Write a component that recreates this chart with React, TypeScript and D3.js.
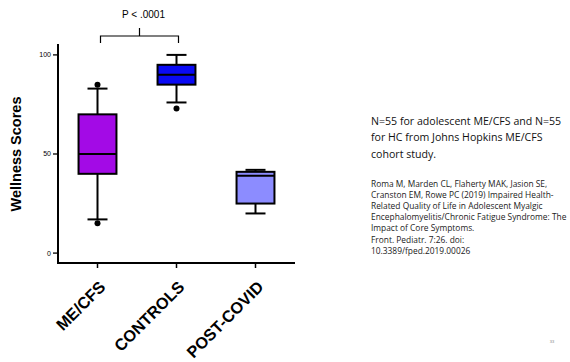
import React from 'react';
import * as d3 from 'd3';

// box plot summary values
const categories = ["ME/CFS", "CONTROLS", "POST-COVID"];
const whiskerLow = [17, 76, 20];
const q1 = [40, 85, 25];
const median = [50, 90, 39];
const q3 = [70, 95, 41];
const whiskerHigh = [83, 100, 42];
const outliers = [[85, 15], [73], []];
const fills = ["#a30ae6", "#0a0af5", "#8c8cff"];
const yTicks = [0, 50, 100];

const noteLines = [
  "N=55 for adolescent ME/CFS and N=55",
  "for HC from Johns Hopkins ME/CFS",
  "cohort study.",
];
const refLines = [
  "Roma M, Marden CL, Flaherty MAK, Jasion SE,",
  "Cranston EM, Rowe PC (2019) Impaired Health-",
  "Related Quality of Life in Adolescent Myalgic",
  "Encephalomyelitis/Chronic Fatigue Syndrome: The",
  "Impact of Core Symptoms.",
  "Front. Pediatr. 7:26. doi:",
  "10.3389/fped.2019.00026",
];

export default function App() {
  const width = 570;
  const height = 362;

  // plot area
  const left = 58, right = 295, top = 44, bottom = 263;

  const x = d3.scaleBand<string>()
    .domain(categories)
    .range([left, right])
    .padding(0);

  const y = d3.scaleLinear()
    .domain([-5, 105.5])
    .range([bottom, top]);

  const boxW = x.bandwidth() * 0.48;
  const capW = 20;
  const cx = (c: string) => (x(c) as number) + x.bandwidth() / 2;

  const sans = "Liberation Sans, Arial, sans-serif";

  // significance bracket between first two groups
  const bx1 = cx(categories[0]) + 3;
  const bx2 = cx(categories[1]) + 2;
  const bracketY = 36;

  return (
    <svg width={width} height={height} style={{ position: "absolute", left: 0, top: 0, background: "#fff" }}>
      {/* y axis */}
      <line x1={left} x2={left} y1={top} y2={bottom} stroke="#000" strokeWidth={2} />
      {yTicks.map(t => (
        <g key={t}>
          <line x1={left - 5} x2={left} y1={y(t)} y2={y(t)} stroke="#000" strokeWidth={1.3} />
          <text x={left - 7} y={y(t)} dy="0.35em" textAnchor="end" fontFamily={sans} fontSize={7}>{t}</text>
        </g>
      ))}
      <text
        transform={`translate(21,154) rotate(-90)`}
        textAnchor="middle"
        fontFamily={sans}
        fontWeight="bold"
        fontSize={14.5}
      >Wellness Scores</text>

      {/* x axis */}
      <line x1={left - 1} x2={right} y1={bottom} y2={bottom} stroke="#000" strokeWidth={2} />
      {categories.map(c => (
        <g key={c}>
          <line x1={cx(c)} x2={cx(c)} y1={bottom} y2={bottom + 5} stroke="#000" strokeWidth={1.5} />
          <text
            transform={`translate(${cx(c) + 9},${bottom + 25}) rotate(-45)`}
            textAnchor="end"
            fontFamily={sans}
            fontWeight="bold"
            fontSize={16.3}
          >{c}</text>
        </g>
      ))}

      {/* boxes */}
      {categories.map((c, i) => {
        const m = cx(c);
        return (
          <g key={c}>
            <line x1={m} x2={m} y1={y(whiskerHigh[i])} y2={y(q3[i])} stroke="#000" strokeWidth={2} />
            <line x1={m} x2={m} y1={y(q1[i])} y2={y(whiskerLow[i])} stroke="#000" strokeWidth={2} />
            <line x1={m - capW / 2} x2={m + capW / 2} y1={y(whiskerHigh[i])} y2={y(whiskerHigh[i])} stroke="#000" strokeWidth={2} />
            <line x1={m - capW / 2} x2={m + capW / 2} y1={y(whiskerLow[i])} y2={y(whiskerLow[i])} stroke="#000" strokeWidth={2} />
            <rect
              x={m - boxW / 2}
              y={y(q3[i])}
              width={boxW}
              height={y(q1[i]) - y(q3[i])}
              fill={fills[i]}
              stroke="#000"
              strokeWidth={2}
            />
            <line x1={m - boxW / 2} x2={m + boxW / 2} y1={y(median[i])} y2={y(median[i])} stroke="#000" strokeWidth={2} />
            {outliers[i].map((o, j) => (
              <circle key={j} cx={m} cy={y(o)} r={3} fill="#000" />
            ))}
          </g>
        );
      })}

      {/* bracket */}
      <path
        d={`M${bx1},${bracketY + 7}V${bracketY}H${bx2}V${bracketY + 7}M${(bx1 + bx2) / 2},${bracketY}V${bracketY - 8}`}
        fill="none"
        stroke="#000"
        strokeWidth={1.2}
      />
      <text x={(bx1 + bx2) / 2 + 4} y={18} textAnchor="middle" fontFamily={sans} fontSize={10}>P &lt; .0001</text>

      {/* notes */}
      {noteLines.map((l, i) => (
        <text key={l} x={371} y={125 + i * 16.3} fontFamily="Open Sans, sans-serif" fontSize={10.6} fill="#111">{l}</text>
      ))}
      {refLines.map((l, i) => (
        <text key={l} x={371} y={187 + i * 11.1} fontFamily="Open Sans, sans-serif" fontSize={8.4} fill="#222">{l}</text>
      ))}
      <text x={552} y={343} textAnchor="middle" fontFamily={sans} fontSize={4} fill="#888">33</text>
    </svg>
  );
}
